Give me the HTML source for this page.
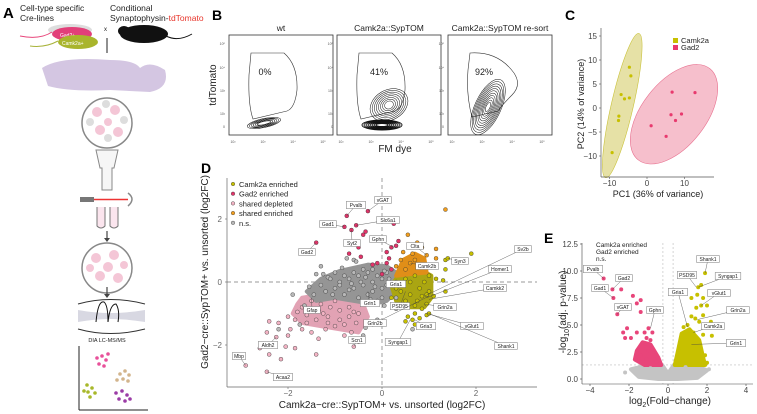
<!DOCTYPE html>
<html><head><meta charset="utf-8">
<style>
html,body{margin:0;padding:0;background:#fff;}
svg{display:block;font-family:"Liberation Sans",sans-serif;}
</style></head>
<body>
<svg id="fig" width="757" height="414" viewBox="0 0 757 414" xmlns="http://www.w3.org/2000/svg">
<g id="panelA">
  <text x="3" y="18" font-size="15" font-weight="bold">A</text>
  <text x="20" y="11" font-size="8.5" fill="#222">Cell-type specific</text>
  <text x="20" y="21" font-size="8.5" fill="#222">Cre-lines</text>
  <text x="110" y="11" font-size="8.5" fill="#222">Conditional</text>
  <text x="110" y="21" font-size="8.5" fill="#222">Synaptophysin-<tspan fill="#e8352b">tdTomato</tspan></text>
  <ellipse cx="70" cy="30" rx="22" ry="6" fill="#ddd"/>
  <path d="M20 36 Q40 40 52 32" stroke="#e8457a" fill="none" stroke-width="1"/>
  <ellipse cx="72" cy="34" rx="20" ry="7" fill="#e23f79"/>
  <text x="60" y="37" font-size="5" fill="#fff">Gad2+</text>
  <path d="M30 46 Q45 48 58 41" stroke="#a8b33a" fill="none" stroke-width="1"/>
  <ellipse cx="78" cy="42" rx="20" ry="7" fill="#a9b52c"/>
  <text x="62" y="45" font-size="5" fill="#fff">Camk2a+</text>
  <text x="104" y="31" font-size="6" fill="#222">x</text>
  <ellipse cx="144" cy="34" rx="24" ry="9" fill="#111"/>
  <ellipse cx="124" cy="31" rx="6" ry="5" fill="#111"/>
  <path d="M166 36 Q178 42 192 34" stroke="#111" fill="none" stroke-width="1"/>
  <line x1="107" y1="38" x2="107" y2="53" stroke="#222" stroke-width="1"/>
  <path d="M42 68 Q60 56 110 60 Q135 60 140 68 Q150 60 165 70 Q170 88 150 92 L110 90 Q70 92 48 86 Z" fill="#d4c6e2"/>
  <circle cx="107" cy="123" r="25" fill="#fff" stroke="#888" stroke-width="1.5"/>
  <g fill="#f4c6d6"><circle cx="97" cy="112" r="5"/><circle cx="115" cy="110" r="5"/><circle cx="100" cy="130" r="5"/><circle cx="118" cy="132" r="5"/><circle cx="108" cy="122" r="4"/></g>
  <g fill="#ddd"><circle cx="90" cy="122" r="4"/><circle cx="124" cy="120" r="4"/><circle cx="108" cy="138" r="4"/><circle cx="106" cy="104" r="4"/></g>
  <path d="M96 150 L118 150 L114 168 L112 168 L112 190 L102 190 L102 168 L100 168 Z" fill="#f6f6f6" stroke="#888" stroke-width="1"/>
  <rect x="80" y="197" width="14" height="5" fill="#777"/>
  <line x1="94" y1="199.5" x2="128" y2="199.5" stroke="#e33" stroke-width="1.5"/>
  <path d="M128 193 Q136 199 128 206" stroke="#888" fill="none" stroke-width="1.5"/>
  <path d="M97 207 L97 226 Q101 230 105 226 L105 207 M110 207 L110 226 Q114 230 118 226 L118 207" stroke="#777" fill="#fbe5ee" stroke-width="1"/>
  <line x1="107" y1="231" x2="107" y2="240" stroke="#444" stroke-width="1.2"/><path d="M104 238 L107 242 L110 238 Z" fill="#444"/>
  <circle cx="107" cy="268" r="25" fill="#fff" stroke="#888" stroke-width="1.5"/>
  <g fill="#f4c6d6"><circle cx="96" cy="258" r="5"/><circle cx="114" cy="255" r="5"/><circle cx="100" cy="276" r="5"/><circle cx="118" cy="278" r="5"/><circle cx="108" cy="267" r="5"/><circle cx="90" cy="268" r="4"/><circle cx="124" cy="265" r="4"/></g>
  <line x1="107" y1="287" x2="107" y2="296" stroke="#444" stroke-width="1.2"/><path d="M104 294 L107 298 L110 294 Z" fill="#444"/>
  <path d="M78 304 Q110 295 145 304 M78 329 Q110 338 145 329" stroke="#333" fill="none" stroke-width="1"/>
  <path d="M78 310 Q110 316 145 310 L145 322 Q110 316 78 322 Z" fill="#d8d8e2"/>
  <path d="M96 322 Q98 300 104 302 Q108 305 108 322 Q110 304 116 304 Q120 310 118 322" stroke="#111" fill="none" stroke-width="1"/>
  <text x="107" y="342" font-size="5.5" text-anchor="middle" fill="#222">DIA LC-MS/MS</text>
  <line x1="79" y1="346" x2="79" y2="410" stroke="#222" stroke-width="1"/><line x1="79" y1="410" x2="148" y2="410" stroke="#222" stroke-width="1"/>
  <g fill="#e8509a"><circle cx="97" cy="358" r="1.8"/><circle cx="102" cy="356" r="1.8"/><circle cx="106" cy="360" r="1.8"/><circle cx="99" cy="364" r="1.8"/><circle cx="104" cy="366" r="1.8"/><circle cx="108" cy="354" r="1.8"/></g>
  <g fill="#d2b48c"><circle cx="120" cy="374" r="1.8"/><circle cx="125" cy="371" r="1.8"/><circle cx="129" cy="375" r="1.8"/><circle cx="123" cy="379" r="1.8"/><circle cx="128" cy="381" r="1.8"/><circle cx="117" cy="380" r="1.8"/></g>
  <g fill="#a8b82a"><circle cx="87" cy="385" r="1.8"/><circle cx="92" cy="388" r="1.8"/><circle cx="88" cy="392" r="1.8"/><circle cx="95" cy="393" r="1.8"/><circle cx="90" cy="397" r="1.8"/><circle cx="84" cy="391" r="1.8"/></g>
  <g fill="#9b3ca6"><circle cx="116" cy="393" r="1.8"/><circle cx="122" cy="391" r="1.8"/><circle cx="127" cy="395" r="1.8"/><circle cx="119" cy="399" r="1.8"/><circle cx="125" cy="401" r="1.8"/><circle cx="130" cy="399" r="1.8"/></g>
</g>
<g id="panelB"></g>
<g id="panelC"></g>
<g id="panelD"></g>
<g id="panelE"></g>
</svg>
<script>
const camkPC1 = [-4.7,-4.3,-6.9,-6.0,-4.7,-7.5,-7.6,-9.3];
const camkPC2 = [8.5,6.7,2.8,1.9,2.1,-1.7,-2.6,-9.3];
const gadPC1 = [6.7,12.8,6.4,9.2,7.6,1.1,5.1];
const gadPC2 = [3.3,3.2,-1.4,-1.25,-2.6,-3.7,-5.9];
const pcTicks = [-10,-5,0,5,10,15];
const pcXTicks = [-10,0,10];
const dTicks = [-2,0,2];
const grayPts = [[-1.55,-0.15],[-1.3,0.5],[-1.15,0.15],[-1.4,0.25],[-0.75,0.75],[-0.6,0.7],[-0.55,0.65],[-1.9,-0.4],[-1.65,-0.75],[-0.35,-1.45],[-0.2,-1.35],[-0.4,-1.7],[-0.1,-1.2],[0.05,-0.75],[0.3,-0.85],[0.45,-0.75],[0.65,-1.5],[0.3,-0.5],[-1.75,-1.35],[-2.2,-1.5],[-1.2,-0.3],[-1.0,-0.2],[-0.9,0],[-0.8,-0.4],[-0.7,0.1],[-0.6,-0.2],[-0.5,0.2],[-0.4,-0.1],[-0.3,0.3],[-0.2,0],[-0.1,0.2],[0,0.1],[0.1,-0.1],[-0.3,-0.4],[-0.5,-0.5],[-0.2,-0.3],[0,-0.2],[0.1,0.3],[-0.6,0.3],[-1.1,0.1],[-1.3,-0.1],[-0.4,0.4],[-0.2,0.4],[0,-0.5],[-0.1,-0.6],[-0.9,-0.1],[-0.7,-0.25],[-1.45,-0.4],[-1.0,0.3],[-0.8,0.2],[-0.45,0.0],[-0.15,-0.15],[0.15,0.1],[-0.35,0.15],[-0.65,-0.05],[-1.05,-0.4],[-0.25,-0.55],[0.05,0.35],[-0.85,0.45],[-1.25,0.25]];
const grayHull = [[-1.6,-0.3],[-1.3,0.1],[-0.9,0.35],[-0.6,0.45],[-0.3,0.55],[0.1,0.5],[0.3,0.3],[0.3,-0.3],[0.1,-0.6],[-0.2,-0.7],[-0.6,-0.6],[-1.0,-0.5],[-1.4,-0.6]];
const pinkPts = [[-2.9,-2.65],[-2.6,-2.1],[-2.45,-2.85],[-2.4,-2.3],[-2.15,-2.45],[-2.25,-1.75],[-2.45,-1.6],[-2.4,-1.25],[-2.2,-1.3],[-2.0,-1.7],[-1.95,-1.5],[-1.85,-2.1],[-2.05,-2.05],[-1.4,-2.3],[-1.7,-1.5],[-1.5,-1.6],[-1.35,-1.8],[-1.15,-1.3],[-1.0,-1.4],[-0.8,-1.7],[-0.6,-2.05],[-0.5,-1.9],[-0.65,-1.6],[-1.6,-1.05],[-1.7,-0.8],[-1.85,-1.2],[-2.0,-1.1],[-1.25,-1.0],[-0.55,-1.3],[-1.5,-0.6],[-1.3,-0.7],[-1.1,-0.8],[-0.9,-0.9],[-0.7,-0.8],[-0.5,-1.0],[-1.4,-1.2],[-1.2,-1.5],[-0.9,-1.2],[-0.7,-1.1],[-1.6,-1.3],[-1.8,-0.95],[-1.0,-0.6],[-1.35,-0.9],[-1.15,-1.1],[-0.8,-1.35],[-0.6,-0.95],[-1.5,-0.85]];
const pinkHull = [[-1.7,-0.5],[-1.3,-0.4],[-0.8,-0.5],[-0.4,-0.7],[-0.3,-1.1],[-0.5,-1.6],[-0.9,-1.5],[-1.3,-1.4],[-1.7,-1.3],[-1.9,-1.0],[-1.8,-0.7]];
const yellowPts = [[1.35,0.7],[1.4,0.75],[1.9,0.9],[1.35,0.4],[1.3,0.05],[1.15,0.1],[1.35,-0.3],[1.1,-0.45],[0.95,-0.7],[0.85,-0.85],[0.7,-1.0],[0.55,-1.1],[0.65,-1.2],[0.7,-1.35],[0.8,-1.15],[0.95,-1.05],[1.0,-1.0],[0.5,-1.25],[0.2,-0.5],[1.0,-0.3],[0.3,0],[0.5,0.1],[0.7,0.2],[0.9,0],[0.4,-0.3],[0.6,-0.4],[0.8,-0.2],[0.5,-0.6],[0.75,-0.6],[0.95,-0.4],[0.3,-0.2],[1.0,0.2],[0.6,0.0],[0.85,-0.45],[0.45,-0.1],[0.7,-0.75]];
const yellowHull = [[0.2,-0.1],[0.4,0.3],[0.8,0.4],[1.05,0.2],[1.05,-0.5],[0.9,-0.8],[0.6,-0.8],[0.3,-0.6]];
const orangePts = [[1.35,2.3],[0.55,1.5],[0.75,1.25],[0.95,0.85],[1.15,1.05],[1.15,0.75],[0.85,1.1],[0.45,0.95],[0.6,0.6],[0.3,0.5],[0.5,0.4],[0.7,0.7],[0.8,0.5],[0.4,0.7],[0.65,0.9]];
const orangeHull = [[0.3,0.2],[0.45,0.7],[0.7,0.9],[0.9,0.75],[0.95,0.3],[0.6,0.25]];
const redPts = [[-0.75,2.1],[-0.3,2.25],[0.25,1.85],[-0.55,1.8],[-0.8,1.75],[-0.65,1.65],[-1.4,1.25],[-0.35,1.6],[-0.4,1.5],[0.35,1.3],[0.3,1.15],[0.2,1.1],[0.1,0.95],[-0.5,1.1],[-0.7,0.9],[-0.45,0.8],[-0.1,0.6],[-0.2,0.55],[0.1,0.6],[0.2,0.4],[0,0.25],[0.15,0.75]];
const dLabels = ["Pvalb","vGAT","Slc6a1","Gad1","Syt2","Gad2","Gphn","Clta","Camk2b","Syn3","Sv2b","Homer1","Camkk2","Gria1","Grin1","Gfap","PSD95","Grin2a","Grin2b","Gria3","vGlut1","Shank1","Syngap1","Scn1","Aldh2","Mbp","Acaa2"];
const dLabelTx = [-0.75,-0.3,-0.55,-0.8,-0.65,-1.4,0.25,0.95,0.6,1.4,0.9,0.95,1.0,0.3,-0.3,-1.5,0.5,0.9,1.0,0.7,0.95,1.0,0.6,-0.6,-2.25,-2.9,-2.45];
const dLabelTy = [2.1,2.25,1.8,1.75,1.65,1.25,1.1,0.85,0.6,0.75,-0.45,-0.5,-0.55,0,-0.3,-0.5,-0.3,-0.7,-0.45,-1.2,-1.0,-1.0,-1.2,-2.05,-1.75,-2.65,-2.85];
const dLabelPx = [[356,205],[383,200],[388,220],[328,224],[352,243],[307,252],[378,239],[415,246],[427,266],[460,261],[523,249],[500,269],[495,288],[396,284],[370,303],[312,310],[400,306],[445,307],[375,323],[426,326],[472,326],[506,346],[398,342],[357,340],[268,345],[239,356],[283,377]];
const eYTicks = [0,2.5,5,7.5,10,12.5];
const eYTickLabels = ["0.0","2.5","5.0","7.5","10.0","12.5"];
const eXTicks = [-4,-2,0,2,4];
const eRedPts = [[-3.3,9.3],[-2.85,8.3],[-2.4,8.3],[-2.8,7.5],[-2.6,6.0],[-1.8,7.7],[-1.6,7.0],[-1.4,7.3],[-1.4,6.2],[-2.1,4.7],[-2.3,4.3],[-2.2,3.8],[-1.6,4.3],[-1.2,4.3],[-1.0,4.7],[-0.8,4.3],[-1.1,3.8],[-0.9,3.6],[-1.9,3.8],[-1.3,3.0],[-1.0,2.6],[-0.7,2.2],[-1.4,2.2],[-0.6,1.6],[-1.1,1.8]];
const eRedHull = [[-1.6,2.6],[-1.3,3.4],[-0.9,3.2],[-0.5,2.0],[-0.35,1.3],[-1.2,1.3],[-1.7,1.8]];
const eYelPts = [[1.9,9.8],[1.55,8.5],[1.7,8.7],[1.5,7.8],[1.8,7.5],[1.2,7.5],[1.45,6.6],[1.7,6.8],[2.0,6.8],[1.8,5.9],[2.2,5.3],[1.6,5.3],[1.0,5.0],[0.8,4.8],[1.3,4.3],[2.25,4.0],[1.8,4.1],[1.2,5.8],[1.4,5.6],[0.9,3.6],[1.5,3.0],[1.9,2.2],[0.6,2.0],[2.0,1.5]];
const eYelHull = [[0.35,1.3],[0.5,2.5],[0.7,4.2],[1.1,4.6],[1.6,3.6],[1.8,2.0],[1.9,1.3]];
const eGrayHull = [[-1.9,0.9],[-1.0,1.3],[-0.3,1.3],[0,0.5],[0.3,1.3],[1.3,1.3],[2.0,0.8],[1.5,0.1],[0.5,0],[-0.5,0],[-1.5,0.2]];
const eGrayPts = [[-2.2,0.6],[-1.7,0.9],[-1.2,0.7],[-0.7,0.5],[-0.3,0.3],[0.2,0.2],[0.6,0.5],[1.1,0.8],[1.6,0.6],[2.1,0.9],[-0.9,1.0],[0.9,1.1]];
const eLabels = ["Pvalb","Gad2","Gad1","vGAT","Gphn","Gria1","PSD95","Shank1","Syngap1","vGlut1","Grin2a","Camk2a","Grin1"];
const eLabelTx = [-3.3,-2.85,-2.8,-2.6,-0.9,1.0,1.45,1.9,1.55,1.7,1.5,1.3,1.2];
const eLabelTy = [9.3,8.3,7.5,6.0,4.7,4.8,8.5,9.8,8.5,6.8,5.5,4.3,3.2];
const eLabelPx = [[593,269],[624,278],[600,288],[623,307],[655,310],[678,292],[687,275],[708,259],[728,276],[719,293],[738,310],[713,326],[736,343]];
</script>
<script>
const NS="http://www.w3.org/2000/svg";
function mk(parent,tag,attrs,txt){const e=document.createElementNS(NS,tag);for(const k in attrs)e.setAttribute(k,attrs[k]);if(txt!==undefined)e.textContent=txt;parent.appendChild(e);return e;}
const B=document.getElementById('panelB');
let t=mk(B,'text',{x:212,y:20,'font-size':14,'font-weight':'bold'},'B');


const boxes=[[229,'wt','0%'],[337,'Camk2a::SypTOM','41%'],[448,'Camk2a::SypTOM re-sort','92%']];
boxes.forEach((b,i)=>{
  const L=b[0],T=35,W=104,H=100;
  const g=mk(B,'g',{});
  
  
  mk(g,'rect',{x:L,y:T,width:W,height:H,fill:'none',stroke:'#333','stroke-width':0.8});
  const tt=mk(g,'text',{x:L+W/2,y:31,'font-size':8.5,'text-anchor':'middle',fill:'#222'},b[1]);
  
  
  ['10²','10³','10⁴','10⁵'].forEach((s,k)=>{mk(g,'text',{x:L+4+k*30,y:T+H+8,'font-size':3.5,'text-anchor':'middle',fill:'#555'},s);});
  ['10⁵','10⁴','10³','10²','0'].forEach((s,k)=>{mk(g,'text',{x:L-4,y:[44,68,91,114,127][k]+1,'font-size':3.5,'text-anchor':'end',fill:'#555'},s);});
  let gate;
  if(i<2) gate=`M${L+22} ${T+18} L${L+55} ${T+18} Q${L+69} ${T+30} ${L+68} ${T+55} Q${L+66} ${T+73} ${L+58} ${T+76} L${L+24} ${T+84} Q${L+19} ${T+70} ${L+20} ${T+40} Z`;
  else gate=`M${L+22} ${T+18} Q${L+50} ${T+16} ${L+66} ${T+38} Q${L+74} ${T+50} ${L+64} ${T+60} Q${L+54} ${T+70} ${L+50} ${T+76} L${L+24} ${T+82} Q${L+18} ${T+60} ${L+20} ${T+35} Z`;
  const gp=mk(g,'path',{d:gate,fill:'none',stroke:'#333','stroke-width':0.6});
  
  
  const pt=mk(g,'text',{x:L+(i==0?36:i==1?42:36),y:T+40,'font-size':9,'text-anchor':'middle',fill:'#222'},b[2]);
  
  
  const cg=mk(g,'g',{fill:'none',stroke:'#111','stroke-width':0.5});
  if(i==0){for(let k=0;k<6;k++)mk(cg,'ellipse',{cx:L+35,cy:T+88,rx:17-k*2,ry:4.5-k*0.6,transform:`rotate(-12 ${L+35} ${T+88})`});}
  if(i==1){for(let k=0;k<8;k++)mk(cg,'ellipse',{cx:L+52,cy:T+70,rx:20-k*2.2,ry:15-k*1.6,transform:`rotate(-30 ${L+52} ${T+70})`});
           for(let k=0;k<8;k++)mk(cg,'ellipse',{cx:L+45,cy:T+90,rx:20-k*2,ry:5-k*0.5,'stroke-width':0.9});}
  if(i==2){for(let k=0;k<11;k++)mk(cg,'ellipse',{cx:L+40,cy:T+72,rx:30-k*2.5,ry:13-k*1.1,transform:`rotate(-65 ${L+40} ${T+72})`});}
});
t=mk(B,'text',{x:395,y:152,'font-size':10,'text-anchor':'middle',fill:'#222'},'FM dye');


t=mk(B,'text',{x:0,y:0,'font-size':10,'text-anchor':'middle',fill:'#222',transform:'translate(216,85) rotate(-90)'},'tdTomato');



const C=document.getElementById('panelC');
const xC=v=>647+3.75*v, yC=v=>108-4.8*v;
t=mk(C,'text',{x:565,y:20,'font-size':14,'font-weight':'bold'},'C');


let e=mk(C,'ellipse',{cx:xC(-6.6),cy:yC(0.5),rx:11,ry:74,fill:'#e6e1a6',stroke:'#c9c23a','stroke-width':0.6,transform:`rotate(13 ${xC(-6.6)} ${yC(0.5)})`});


e=mk(C,'ellipse',{cx:xC(7.2),cy:yC(-1.3),rx:58,ry:32,fill:'#f6bfcc',stroke:'#e8708f','stroke-width':0.6,transform:`rotate(-52 ${xC(7.2)} ${yC(-1.3)})`});


camkPC1.forEach((v,i)=>{const c=mk(C,'circle',{cx:xC(v),cy:yC(camkPC2[i]),r:1.6,fill:'#c7c000'});
 
 });
gadPC1.forEach((v,i)=>{const c=mk(C,'circle',{cx:xC(v),cy:yC(gadPC2[i]),r:1.6,fill:'#e83a6e'});
 
 });
mk(C,'line',{x1:601,y1:28,x2:601,y2:177,stroke:'#555','stroke-width':0.7});
mk(C,'line',{x1:601,y1:177,x2:714,y2:177,stroke:'#555','stroke-width':0.7});
pcTicks.forEach(v=>{mk(C,'line',{x1:599,y1:yC(v),x2:601,y2:yC(v),stroke:'#555','stroke-width':0.6});
 const tl=mk(C,'text',{x:597,y:yC(v)+3,'font-size':8,'text-anchor':'end',fill:'#444'},v<0?'−'+(-v):''+v);
 
 });
pcXTicks.forEach(v=>{mk(C,'line',{x1:xC(v),y1:177,x2:xC(v),y2:179,stroke:'#555','stroke-width':0.6});
 const tl=mk(C,'text',{x:xC(v),y:186,'font-size':8,'text-anchor':'middle',fill:'#444'},v<0?'−'+(-v):''+v);
 
 });
t=mk(C,'text',{x:658,y:197,'font-size':9,'text-anchor':'middle',fill:'#222'},'PC1 (36% of variance)');


t=mk(C,'text',{x:0,y:0,'font-size':9,'text-anchor':'middle',fill:'#222',transform:'translate(584,104) rotate(-90)'},'PC2 (14% of variance)');


[['Camk2a','#c7c000',42],['Gad2','#e83a6e',49]].forEach(l=>{
 const r=mk(C,'rect',{x:673,y:l[2]-4,width:5,height:5,fill:l[1]});
 
 
 const tx=mk(C,'text',{x:681,y:l[2]+1,'font-size':7.5,fill:'#222'},l[0]);
 
 });

const D=document.getElementById('panelD');
const xD=v=>382+47*v, yD=v=>282-31.5*v;
t=mk(D,'text',{x:201,y:173,'font-size':14,'font-weight':'bold'},'D');


mk(D,'line',{x1:xD(0),y1:178,x2:xD(0),y2:387,stroke:'#777','stroke-width':0.7,'stroke-dasharray':'4,3'});
mk(D,'line',{x1:227,y1:yD(0),x2:537,y2:yD(0),stroke:'#777','stroke-width':0.7,'stroke-dasharray':'4,3'});
function hull(parent,arr,fill,name,xf,yf){const p=mk(parent,'polygon',{points:arr.map(q=>xf(q[0])+','+yf(q[1])).join(' '),fill:fill,stroke:fill,'stroke-width':4,'stroke-linejoin':'round'});
 
 }
function pts(parent,arr,fill,name,xf,yf,r,st){arr.forEach(q=>{const c=mk(parent,'circle',{cx:xf(q[0]),cy:yf(q[1]),r:r,fill:fill,stroke:st||'#333','stroke-width':0.4});
 
 });}
hull(D,pinkHull,'#e2a2b4','shared-depleted-density',xD,yD);
hull(D,grayHull,'#959595','ns-density',xD,yD);
hull(D,yellowHull,'#aaa512','camk2a-enriched-density',xD,yD);
hull(D,orangeHull,'#e08e18','shared-enriched-density',xD,yD);
pts(D,pinkPts,'#f3b3c4','shared-depleted-point',xD,yD,2);
pts(D,grayPts,'#b8b8b8','ns-point',xD,yD,2);
pts(D,yellowPts,'#c7c000','camk2a-enriched-point',xD,yD,2);
pts(D,orangePts,'#f29e1d','shared-enriched-point',xD,yD,2);
pts(D,redPts,'#e3346a','gad2-enriched-point',xD,yD,2);
mk(D,'line',{x1:227,y1:178,x2:227,y2:387,stroke:'#666','stroke-width':0.7});
mk(D,'line',{x1:227,y1:387,x2:537,y2:387,stroke:'#666','stroke-width':0.7});
dTicks.forEach(v=>{
 mk(D,'line',{x1:225,y1:yD(v),x2:227,y2:yD(v),stroke:'#666','stroke-width':0.6});
 let tl=mk(D,'text',{x:222,y:yD(v)+3,'font-size':8,'text-anchor':'end',fill:'#666'},v<0?'−'+(-v):''+v);
 
 
 mk(D,'line',{x1:xD(v),y1:387,x2:xD(v),y2:389,stroke:'#666','stroke-width':0.6});
 tl=mk(D,'text',{x:xD(v),y:396,'font-size':8,'text-anchor':'middle',fill:'#666'},v<0?'−'+(-v):''+v);
 
 });
dLabels.forEach((s,i)=>{
 const p=dLabelPx[i], w=s.length*3.1+4;
 mk(D,'line',{x1:p[0],y1:p[1],x2:xD(dLabelTx[i]),y2:yD(dLabelTy[i]),stroke:'#444','stroke-width':0.4});
 mk(D,'rect',{x:p[0]-w/2,y:p[1]-3.5,width:w,height:7,fill:'#fff',stroke:'#555','stroke-width':0.4});
 const tl=mk(D,'text',{x:p[0],y:p[1]+2,'font-size':5,'text-anchor':'middle',fill:'#222'},s);
 
 });
[['Camk2a enriched','#c7c000'],['Gad2 enriched','#e3346a'],['shared depleted','#f3b3c4'],['shared enriched','#f29e1d'],['n.s.','#b8b8b8']].forEach((l,i)=>{
 const y=184+i*9.7;
 mk(D,'circle',{cx:233,cy:y,r:1.8,fill:l[1],stroke:'#333','stroke-width':0.4});
 const tx=mk(D,'text',{x:239,y:y+3,'font-size':7.5,fill:'#222'},l[0]);
 
 });
t=mk(D,'text',{x:382,y:408,'font-size':10,'text-anchor':'middle',fill:'#222'},'Camk2a−cre::SypTOM+ vs. unsorted (log2FC)');


t=mk(D,'text',{x:0,y:0,'font-size':10,'text-anchor':'middle',fill:'#222',transform:'translate(208,272) rotate(-90)'},'Gad2−cre::SypTOM+ vs. unsorted (log2FC)');



const E=document.getElementById('panelE');
const xE=v=>668+19.5*v, yE=v=>379-10.8*v;
t=mk(E,'text',{x:544,y:243,'font-size':14,'font-weight':'bold'},'E');


mk(E,'line',{x1:582,y1:yE(1.3),x2:753,y2:yE(1.3),stroke:'#aaa','stroke-width':0.5,'stroke-dasharray':'2,2'});
mk(E,'line',{x1:xE(-0.26),y1:243,x2:xE(-0.26),y2:384,stroke:'#aaa','stroke-width':0.5,'stroke-dasharray':'2,2'});
mk(E,'line',{x1:xE(0.26),y1:243,x2:xE(0.26),y2:384,stroke:'#aaa','stroke-width':0.5,'stroke-dasharray':'2,2'});
hull(E,eGrayHull,'#c4c4c4','ns-density',xE,yE);
hull(E,eRedHull,'#e8457a','gad2-enriched-density',xE,yE);
hull(E,eYelHull,'#c7c000','camk2a-enriched-density',xE,yE);
pts(E,eGrayPts,'#c4c4c4','ns-point',xE,yE,2,'none');
pts(E,eRedPts,'#e8457a','gad2-enriched-point',xE,yE,2,'none');
pts(E,eYelPts,'#c7c000','camk2a-enriched-point',xE,yE,2,'none');
mk(E,'line',{x1:582,y1:243,x2:582,y2:384,stroke:'#444','stroke-width':0.6});
mk(E,'line',{x1:582,y1:384,x2:753,y2:384,stroke:'#444','stroke-width':0.6});
eYTicks.forEach((v,i)=>{mk(E,'line',{x1:580,y1:yE(v),x2:582,y2:yE(v),stroke:'#444','stroke-width':0.6});
 const tl=mk(E,'text',{x:578,y:yE(v)+3,'font-size':8,'text-anchor':'end',fill:'#444'},eYTickLabels[i]);
 
 });
eXTicks.forEach(v=>{mk(E,'line',{x1:xE(v),y1:384,x2:xE(v),y2:386,stroke:'#444','stroke-width':0.6});
 const tl=mk(E,'text',{x:xE(v),y:393,'font-size':8,'text-anchor':'middle',fill:'#444'},v<0?'−'+(-v):''+v);
 
 });
eLabels.forEach((s,i)=>{
 const p=eLabelPx[i], w=s.length*3.1+4;
 mk(E,'line',{x1:p[0],y1:p[1],x2:xE(eLabelTx[i]),y2:yE(eLabelTy[i]),stroke:'#444','stroke-width':0.4});
 mk(E,'rect',{x:p[0]-w/2,y:p[1]-3.5,width:w,height:7,fill:'#fff',stroke:'#555','stroke-width':0.4});
 const tl=mk(E,'text',{x:p[0],y:p[1]+2,'font-size':5,'text-anchor':'middle',fill:'#222'},s);
 
 });
['Camk2a enriched','Gad2 enriched','n.s.'].forEach((s,i)=>{const tx=mk(E,'text',{x:596,y:247+i*7,'font-size':6.5,fill:'#222'},s);
 
 });
t=mk(E,'text',{x:670,y:404,'font-size':10,'text-anchor':'middle',fill:'#222'},'');


mk(t,'tspan',{},'log');mk(t,'tspan',{'font-size':7,dy:3},'2');mk(t,'tspan',{dy:-3},'(Fold−change)');
t=mk(E,'text',{x:0,y:0,'font-size':10,'text-anchor':'middle',fill:'#222',transform:'translate(566,312) rotate(-90)'},'');


mk(t,'tspan',{},'-log');mk(t,'tspan',{'font-size':7,dy:3},'10');mk(t,'tspan',{dy:-3},'(adj. p-value)');
</script>
</body></html>
